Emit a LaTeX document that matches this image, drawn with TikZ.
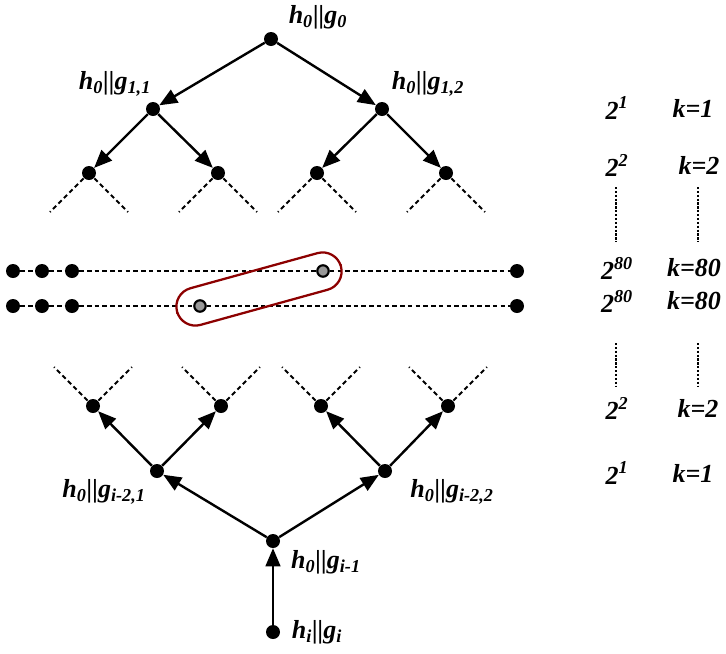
\documentclass[tikz,border=0pt]{standalone}
\usepackage{fontspec}
\setmainfont{Liberation Serif}
\usetikzlibrary{arrows.meta}
\definecolor{ringred}{RGB}{140,0,0}
\newcommand{\hgl}[4]{#1\textsubscript{#2}||#3\textsubscript{#4}}

\begin{document}
\begin{tikzpicture}[x=0.75pt,y=-0.75pt,
  font=\fontsize{19.5}{22}\selectfont\bfseries\itshape,
  dot/.style={circle,fill=black,inner sep=0pt,minimum size=10.5pt},
  gdot/.style={circle,draw=black,fill=black!40,line width=1.6pt,inner sep=0pt,minimum size=8.6pt},
  edge/.style={line width=1.8pt,-{Triangle[length=13.5pt,width=11pt]}},
  stub/.style={line width=1.5pt,dash pattern=on 3.4pt off 2.4pt},
  rowline/.style={line width=1.7pt,dash pattern=on 3.4pt off 2.4pt},
  vdots/.style={line width=2pt,dash pattern=on 1.7pt off 1.2pt},
  ring/.style={draw=ringred,line width=1.7pt,rectangle,rounded corners=14.25pt,
    minimum width=127.5pt,minimum height=28.5pt}]
\useasboundingbox (0,0) rectangle (726,654);

% top tree
\node[dot] (r0) at (271,39) {};
\node[dot] (a1) at (153,109) {};
\node[dot] (a2) at (382,109) {};
\node[dot] (b1) at (89,173) {};
\node[dot] (b2) at (218,173) {};
\node[dot] (b3) at (317,173) {};
\node[dot] (b4) at (446,173) {};
\draw[edge] (r0) -- (a1);
\draw[edge] (r0) -- (a2);
\draw[edge] (a1) -- (b1);
\draw[edge] (a1) -- (b2);
\draw[edge] (a2) -- (b3);
\draw[edge] (a2) -- (b4);
\foreach \n in {b1,b2,b3,b4}
  \draw[stub] (\n.center) -- ++(-39,39) (\n.center) -- ++(39,39);
\node (tr0) at (318,17) {\hgl{h}{0}{g}{0}};
\node (ta1) at (115,84) {\hgl{h}{0}{g}{1,1}};
\node (ta2) at (428,84) {\hgl{h}{0}{g}{1,2}};

% the two long rows
\foreach \r/\y in {1/271,2/306} {
  \node[dot] (p\r1) at (13,\y) {};
  \node[dot] (p\r2) at (42,\y) {};
  \node[dot] (p\r3) at (72,\y) {};
  \node[dot] (q\r) at (517,\y) {};
}
\node[gdot] (m1) at (323,271) {};
\node[gdot] (m2) at (200,306) {};
\draw[rowline] (p11) -- (p12) (p12) -- (p13) (p13) -- (m1) (m1) -- (q1);
\draw[rowline] (p21) -- (p22) (p22) -- (p23) (p23) -- (m2) (m2) -- (q2);
\node[ring,rotate=15.45] (pair) at (259,289) {};

% bottom tree
\node[dot] (c1) at (93,406) {};
\node[dot] (c2) at (221,406) {};
\node[dot] (c3) at (321,406) {};
\node[dot] (c4) at (448,406) {};
\node[dot] (d1) at (157,471) {};
\node[dot] (d2) at (385,471) {};
\node[dot] (e0) at (273,541) {};
\node[dot] (f0) at (273,632) {};
\draw[edge] (f0) -- (e0);
\draw[edge] (e0) -- (d1);
\draw[edge] (e0) -- (d2);
\draw[edge] (d1) -- (c1);
\draw[edge] (d1) -- (c2);
\draw[edge] (d2) -- (c3);
\draw[edge] (d2) -- (c4);
\foreach \n in {c1,c2,c3,c4}
  \draw[stub] (\n.center) -- ++(-39,-39) (\n.center) -- ++(39,-39);
\node (td1) at (104,492) {\hgl{h}{0}{g}{i-2,1}};
\node (td2) at (452,492) {\hgl{h}{0}{g}{i-2,2}};
\node (te0) at (326,562) {\hgl{h}{0}{g}{i-1}};
\node (tf0) at (317,632) {\hgl{h}{i}{g}{i}};

% level column
\foreach \y/\e/\kx [count=\i] in {108/1/693,165/2/699,268/80/694,301/80/694,408/2/698,473/1/693} {
  \node (pw\i) at (617,\y) {2\textsuperscript{\e}};
  \node (kv\i) at (\kx,\y) {k=\e};
}
\draw[vdots] (616,187) -- (616,242);
\draw[vdots] (698,187) -- (698,242);
\draw[vdots] (616,343) -- (616,387);
\draw[vdots] (698,343) -- (698,387);
\end{tikzpicture}
\end{document}
